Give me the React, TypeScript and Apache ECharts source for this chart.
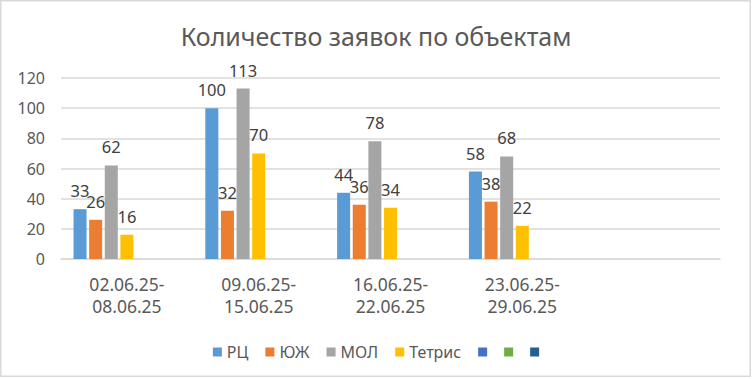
import React, { useEffect, useRef } from "react";
import * as echarts from "echarts";

const title = "Количество заявок по объектам";
const categories = ["02.06.25-\n08.06.25", "09.06.25-\n15.06.25", "16.06.25-\n22.06.25", "23.06.25-\n29.06.25", ""];
const seriesNames = ["РЦ", "ЮЖ", "МОЛ", "Тетрис", "__s5", "__s6", "__s7"];
const rc = [33, 100, 44, 58];
const yuzh = [26, 32, 36, 38];
const mol = [62, 113, 78, 68];
const tetris = [16, 70, 34, 22];
const colors = ["#5B9BD5", "#ED7D31", "#A5A5A5", "#FFC000", "#4472C4", "#70AD47", "#255E91"];
const yTicks = { min: 0, max: 120, interval: 20 };

export default function App() {
  const ref = useRef<HTMLDivElement>(null);
  useEffect(() => {
    const chart = echarts.init(ref.current!, null, { renderer: "svg" });
    const font = "Noto Sans";
    const dataSets = [rc, yuzh, mol, tetris, [], [], []];
    chart.setOption({
      animation: false,
      backgroundColor: "#ffffff",
      color: colors,
      title: {
        text: title,
        left: "center",
        top: 18,
        textStyle: { fontFamily: font, fontSize: 25, fontWeight: "normal", color: "#595959" },
      },
      graphic: [
        {
          type: "rect",
          shape: { x: 0.75, y: 0.75, width: 749.5, height: 375.5 },
          style: { fill: "none", stroke: "#d9d9d9", lineWidth: 1.5 },
          silent: true,
        },
      ],
      legend: {
        top: 339,
        left: "center",
        itemWidth: 9,
        itemHeight: 9,
        itemGap: 17,
        icon: "rect",
        textStyle: { fontFamily: font, fontSize: 16, color: "#595959" },
        formatter: (name: string) => (name.startsWith("__") ? "" : name),
        data: seriesNames,
      },
      grid: { left: 61, right: 32, top: 78, bottom: 120 },
      xAxis: {
        type: "category",
        data: categories,
        axisLine: { lineStyle: { color: "#d9d9d9", width: 1.5 } },
        axisTick: { show: false },
        axisLabel: {
          fontFamily: font,
          fontSize: 17.5,
          color: "#595959",
          lineHeight: 22,
          margin: 14,
          interval: 0,
        },
      },
      yAxis: {
        type: "value",
        min: yTicks.min,
        max: yTicks.max,
        interval: yTicks.interval,
        axisLine: { show: false },
        axisTick: { show: false },
        splitLine: { lineStyle: { color: "#d9d9d9", width: 1.5 } },
        axisLabel: { fontFamily: font, fontSize: 16, color: "#595959", margin: 16 },
      },
      series: seriesNames.map((name, i) => ({
        name,
        type: "bar",
        data: dataSets[i],
        barGap: "20%",
        barCategoryGap: "19%",
        itemStyle: { color: colors[i] },
        label: {
          show: true,
          position: "top",
          distance: 10,
          fontFamily: font,
          fontSize: 16.5,
          color: "#404040",
        },
      })),
    });
    return () => chart.dispose();
  }, []);
  return (
    <div
      ref={ref}
      style={{ position: "absolute", left: 0, top: 0, width: 752, height: 379 }}
    />
  );
}
